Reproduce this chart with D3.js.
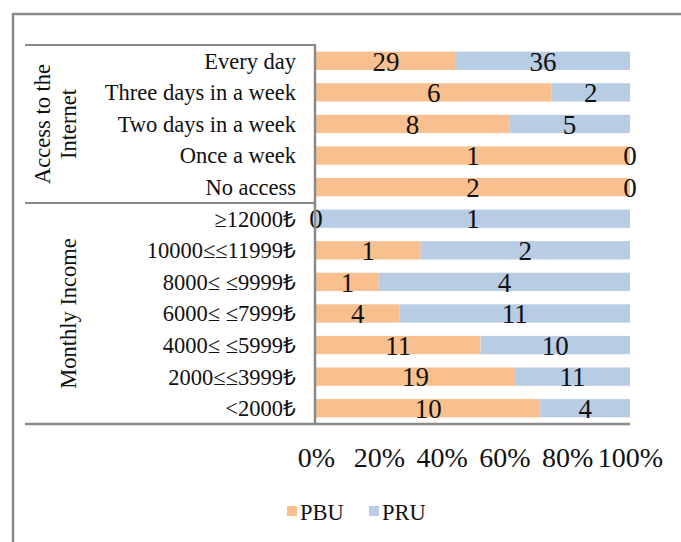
<!DOCTYPE html>
<html>
<head>
<meta charset="utf-8">
<script src="https://cdn.jsdelivr.net/npm/d3@7"></script>
<style>
  body { margin: 0; background: #fff; }
  text { font-family: "Liberation Serif", "Times New Roman", serif; fill: #111; }
</style>
</head>
<body>
<div id="chart"></div>
<script>
const categories = [
  "Every day", "Three days in a week", "Two days in a week", "Once  a week", "No access",
  "\u226512000\u20BA", "10000\u2264\u226411999\u20BA", "8000\u2264 \u22649999\u20BA",
  "6000\u2264 \u22647999\u20BA", "4000\u2264 \u22645999\u20BA", "2000\u2264\u22643999\u20BA", "<2000\u20BA"
];
const pbu = [29, 6, 8, 1, 2, 0, 1, 1, 4, 11, 19, 10];
const pru = [36, 2, 5, 0, 0, 1, 2, 4, 11, 10, 11, 4];
const seriesNames = ["PBU", "PRU"];
const colors = ["#F9C08F", "#B8CCE4"];
const xTicks = [0, 0.2, 0.4, 0.6, 0.8, 1];
const groups = [
  { lines: ["Access to the", "Internet"], first: 0, count: 5 },
  { lines: ["Monthly Income"], first: 5, count: 7 }
];

const width = 681, height = 542;
const svg = d3.select("#chart").append("svg")
    .attr("width", width)
    .attr("height", height);

// outer frame (cut off at right and bottom like the source)
svg.append("path")
    .attr("d", `M13,${height + 5} V14 H${width + 5}`)
    .attr("fill", "none")
    .attr("stroke", "#8a8a8a")
    .attr("stroke-width", 2.5);

const x = d3.scaleLinear().domain([0, 1]).range([316, 630]);
const y = d3.scaleBand().domain(categories).range([45, 424]).paddingInner(0.42).paddingOuter(0.21);

const rows = categories.map((c, i) => {
  const total = pbu[i] + pru[i];
  return { cat: c, segs: [
    { s: 0, v: pbu[i], x0: 0, x1: pbu[i] / total },
    { s: 1, v: pru[i], x0: pbu[i] / total, x1: 1 }
  ] };
});

const row = svg.selectAll(".row").data(rows).enter().append("g").attr("class", "row");

row.selectAll("rect").data(d => d.segs.map(s => ({ ...s, cat: d.cat }))).enter().append("rect")
    .attr("x", d => x(d.x0))
    .attr("y", d => y(d.cat))
    .attr("width", d => x(d.x1) - x(d.x0))
    .attr("height", y.bandwidth())
    .attr("fill", d => colors[d.s]);

row.selectAll(".val").data(d => d.segs.map(s => ({ ...s, cat: d.cat }))).enter().append("text")
    .attr("class", "val")
    .attr("x", d => (x(d.x0) + x(d.x1)) / 2)
    .attr("y", d => y(d.cat) + y.bandwidth() / 2)
    .attr("dy", "0.36em")
    .attr("text-anchor", "middle")
    .style("font-size", "27px")
    .text(d => d.v);

// category labels
svg.selectAll(".cat").data(categories).enter().append("text")
    .attr("class", "cat")
    .attr("x", 296)
    .attr("y", d => y(d) + y.bandwidth() / 2)
    .attr("dy", "0.35em")
    .attr("text-anchor", "end")
    .style("font-size", "22.5px")
    .text(d => d);

// group box lines + rotated group titles
const step = y.step();
const lineCol = "#8a8a8a";
groups.forEach(g => {
  const top = 45 + g.first * step;
  const bottom = 45 + (g.first + g.count) * step;
  svg.append("line").attr("x1", 25).attr("x2", 316).attr("y1", top).attr("y2", top)
      .attr("stroke", lineCol).attr("stroke-width", 2);
  const cy = (top + bottom) / 2;
  const lh = 26;
  const cx = 68 - (g.lines.length - 1) * lh;
  const t = svg.append("text")
      .attr("transform", `translate(${cx},${cy}) rotate(-90)`)
      .attr("text-anchor", "middle")
      .style("font-size", "22.5px");
  g.lines.forEach((l, li) => {
    t.append("tspan").attr("x", 0).attr("dy", li === 0 ? "0.35em" : lh).text(l);
  });
});
svg.append("line").attr("x1", 25).attr("x2", 630).attr("y1", 424).attr("y2", 424)
    .attr("stroke", lineCol).attr("stroke-width", 2.5);
svg.append("line").attr("x1", 315).attr("x2", 315).attr("y1", 44).attr("y2", 425)
    .attr("stroke", lineCol).attr("stroke-width", 2.5);

// x axis labels
const xAxis = svg.append("g")
    .attr("transform", "translate(0,432)")
    .call(d3.axisBottom(x).tickValues(xTicks).tickFormat(d3.format(".0%")).tickSize(0).tickPadding(15));
xAxis.select(".domain").remove();
xAxis.selectAll("text")
    .style("font-family", "'Liberation Serif', serif")
    .style("font-size", "28px")
    .attr("fill", "#111");

// legend
const legend = svg.append("g").attr("transform", "translate(287,512)");
const lx = [0, 82];
seriesNames.forEach((n, i) => {
  legend.append("rect").attr("x", lx[i]).attr("y", -6).attr("width", 10).attr("height", 10).attr("fill", colors[i]);
  legend.append("text").attr("x", lx[i] + 13).attr("y", 0).attr("dy", "0.35em")
      .style("font-size", "22.5px").text(n);
});
</script>
</body>
</html>
